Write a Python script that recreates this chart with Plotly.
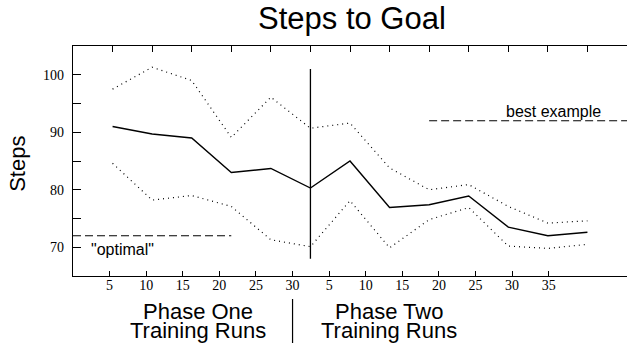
import plotly.graph_objects as go

# ---- data ----
run_index = list(range(1, 14))
run_labels = ["5", "10", "15", "20", "25", "30", "5", "10", "15", "20", "25", "30", "35"]
mean_steps = [91.0, 89.7, 89.0, 83.0, 83.7, 80.3, 85.0, 76.9, 77.4, 78.9, 73.5, 72.0, 72.6]
upper_steps = [97.5, 101.3, 99.0, 89.1, 96.1, 90.7, 91.6, 83.8, 80.0, 80.9, 77.1, 74.2, 74.6]
lower_steps = [84.6, 78.2, 79.0, 77.1, 71.3, 70.1, 78.1, 69.9, 74.8, 76.9, 70.2, 69.8, 70.5]
y_tick_vals = [70, 75, 80, 85, 90, 95, 100]
y_tick_text = ["70", "", "80", "", "90", "", "100"]
optimal_x = [0, 4]
optimal_y = [72, 72]
best_x = [9, 14]
best_y = [92, 92]
phase_split_x = [6, 6]
phase_split_y = [68, 101]

SANS = "Liberation Sans, Arial, sans-serif"
SERIF = "Liberation Serif, Times New Roman, serif"

fig = go.Figure()

dotted = dict(color="black", width=1.2, dash="1px,4px")
fig.add_trace(go.Scatter(x=run_index, y=upper_steps, mode="lines", line=dotted,
                         xaxis="x2", yaxis="y", showlegend=False))
fig.add_trace(go.Scatter(x=run_index, y=lower_steps, mode="lines", line=dotted,
                         xaxis="x2", yaxis="y", showlegend=False))
fig.add_trace(go.Scatter(x=run_index, y=mean_steps, mode="lines",
                         line=dict(color="black", width=1.4),
                         xaxis="x2", yaxis="y", showlegend=False))
fig.add_trace(go.Scatter(x=optimal_x, y=optimal_y, mode="lines",
                         line=dict(color="black", width=1, dash="8px,4px"),
                         xaxis="x2", yaxis="y", showlegend=False))
fig.add_trace(go.Scatter(x=best_x, y=best_y, mode="lines",
                         line=dict(color="black", width=1, dash="8px,4px"),
                         xaxis="x2", yaxis="y", showlegend=False))
fig.add_trace(go.Scatter(x=phase_split_x, y=phase_split_y, mode="lines",
                         line=dict(color="black", width=1.3),
                         xaxis="x2", yaxis="y", showlegend=False))

fig.update_layout(
    width=627, height=343,
    margin=dict(l=73, r=0, t=46, b=67),
    plot_bgcolor="white", paper_bgcolor="white",
    showlegend=False,
    xaxis=dict(
        range=[0, 15.14], tickmode="array", tickvals=run_index, ticktext=run_labels,
        ticks="inside", ticklen=5, tickcolor="black", tickwidth=1,
        showline=True, linecolor="black", linewidth=1.3,
        showgrid=False, zeroline=False, ticklabelstandoff=-4,
        tickfont=dict(family=SERIF, size=14, color="black"),
    ),
    xaxis2=dict(
        range=[0, 14], overlaying="x", side="top", tickmode="array", tickvals=run_index,
        showticklabels=False, ticks="inside", ticklen=6, tickcolor="black", tickwidth=1,
        showline=True, linecolor="black", linewidth=1,
        showgrid=False, zeroline=False,
    ),
    yaxis=dict(
        range=[65, 105], tickmode="array", tickvals=y_tick_vals, ticktext=y_tick_text,
        ticks="inside", ticklen=8, tickcolor="black", tickwidth=1,
        showline=True, linecolor="black", linewidth=1.3,
        showgrid=False, zeroline=False, ticklabelstandoff=5,
        tickfont=dict(family=SERIF, size=14, color="black"),
    ),
    yaxis2=dict(
        range=[65, 105], overlaying="y", side="right", tickmode="array", tickvals=y_tick_vals,
        showticklabels=False, ticks="inside", ticklen=7, tickcolor="black", tickwidth=1,
        showline=False, showgrid=False, zeroline=False,
    ),
)

# separator between phase labels
fig.add_shape(type="line", xref="x", yref="paper", x0=6, x1=6, y0=-0.10, y1=-0.30,
              line=dict(color="black", width=1.2))

anns = [
    dict(text="Steps to Goal", x=0.503, y=1.118, size=31),
    dict(text="Phase One", x=0.2256, y=-0.155, size=22),
    dict(text="Training Runs", x=0.2256, y=-0.236, size=22),
    dict(text="Phase Two", x=0.571, y=-0.155, size=22),
    dict(text="Training Runs", x=0.571, y=-0.236, size=22),
]
for a in anns:
    fig.add_annotation(text=a["text"], xref="paper", yref="paper", x=a["x"], y=a["y"],
                       xanchor="center", yanchor="middle", showarrow=False,
                       font=dict(family=SANS, size=a["size"], color="black"))

fig.add_annotation(text="Steps", xref="paper", yref="paper", x=-0.1, y=0.486,
                   textangle=-90, xanchor="center", yanchor="middle", showarrow=False,
                   font=dict(family=SANS, size=22, color="black"))
fig.add_annotation(text='"optimal"', xref="x2", yref="y", x=0.4, y=69.6,
                   xanchor="left", yanchor="middle", showarrow=False,
                   font=dict(family=SANS, size=16, color="black"))
fig.add_annotation(text="best example", xref="x2", yref="y", x=13.4, y=93.6,
                   xanchor="right", yanchor="middle", showarrow=False,
                   font=dict(family=SANS, size=16, color="black"))

fig.write_html("out.html", config={"displayModeBar": False},
               post_script="document.body.style.margin='0';document.body.style.overflow='hidden';")
